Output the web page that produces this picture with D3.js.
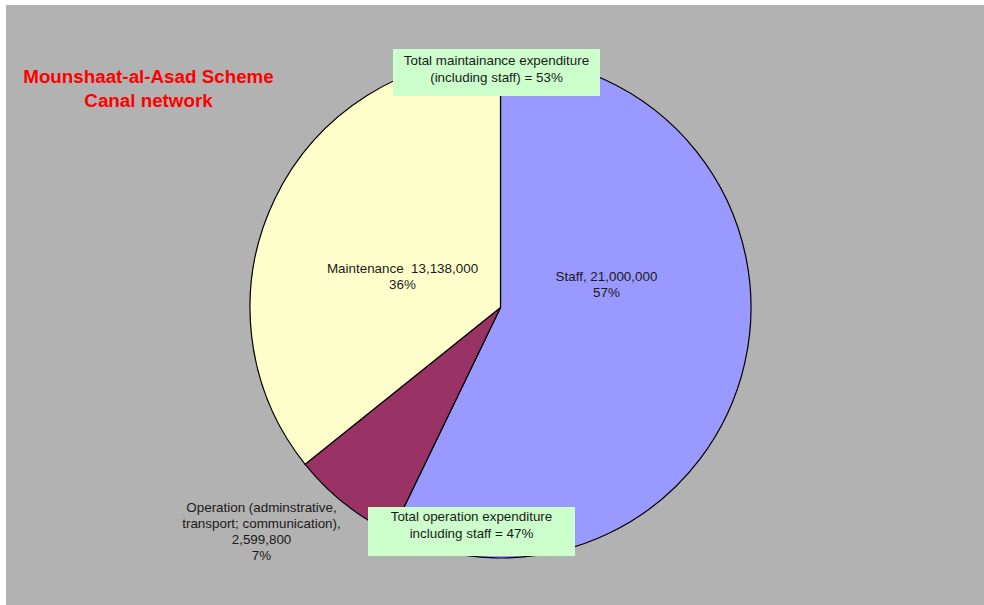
<!DOCTYPE html>
<html><head><meta charset="utf-8">
<script src="https://cdn.jsdelivr.net/npm/d3@7"></script>
<style>html,body{margin:0;padding:0;background:#fff;}svg{display:block;}text{white-space:pre;}</style>
</head><body>
<svg id="c" width="984" height="605"></svg>
<script>
const categories = ["Staff", "Operation", "Maintenance"];
const values = [21000000, 2599800, 13138000];
const colors = ["#9999ff", "#993366", "#ffffcc"];
const sliceLabels = [
  ["Staff, 21,000,000", "57%"],
  ["Operation (adminstrative,", "transport; communication),", "2,599,800", "7%"],
  ["Maintenance  13,138,000", "36%"]
];
const titleLines = ["Mounshaat-al-Asad Scheme", "Canal network"];
const noteTop = ["Total maintainance expenditure", "(including staff) = 53%"];
const noteBottom = ["Total operation expenditure", "including staff = 47%"];

const svg = d3.select("#c");
const font = "'Liberation Sans', Arial, Helvetica, sans-serif";
svg.append("rect").attr("x", 6).attr("y", 5).attr("width", 978).attr("height", 600).attr("fill", "#b2b2b2");

const cx = 500.5, cy = 307.5, r = 250.5;
const pie = d3.pie().sort(null).value(d => d)(values);
const arc = d3.arc().innerRadius(0).outerRadius(r);
const g = svg.append("g").attr("transform", `translate(${cx},${cy})`);
g.selectAll("path").data(pie).join("path")
  .attr("d", arc).attr("fill", (d, i) => colors[i])
  .attr("stroke", "#000").attr("stroke-width", 1.2);

// slice label positions (relative to center)
const labelPos = [[106, -27], [-239, 204], [-98, -35]];
const fs = 13.4;
sliceLabels.forEach((lines, i) => {
  const t = g.append("text").attr("text-anchor", "middle")
    .attr("font-family", font).attr("font-size", fs).attr("fill", "#1a1a1a");
  lines.forEach((l, j) => t.append("tspan").attr("x", labelPos[i][0])
    .attr("y", labelPos[i][1] + j * 16).text(l));
});

function note(x, y, w, h, lines, ty) {
  svg.append("rect").attr("x", x).attr("y", y).attr("width", w).attr("height", h).attr("fill", "#ccffcc");
  const t = svg.append("text").attr("text-anchor", "middle")
    .attr("font-family", font).attr("font-size", fs).attr("fill", "#1a1a1a");
  lines.forEach((l, j) => t.append("tspan").attr("x", x + w / 2).attr("y", ty + j * 17).text(l));
}
note(393, 49, 207, 47, noteTop, 65);
note(368, 507, 207, 49, noteBottom, 521);

const title = svg.append("text").attr("text-anchor", "middle")
  .attr("font-family", font).attr("font-size", 18.8).attr("font-weight", "bold").attr("fill", "#ff0000");
titleLines.forEach((l, j) => title.append("tspan").attr("x", 148.5).attr("y", 83 + j * 24).text(l));
</script>
</body></html>
